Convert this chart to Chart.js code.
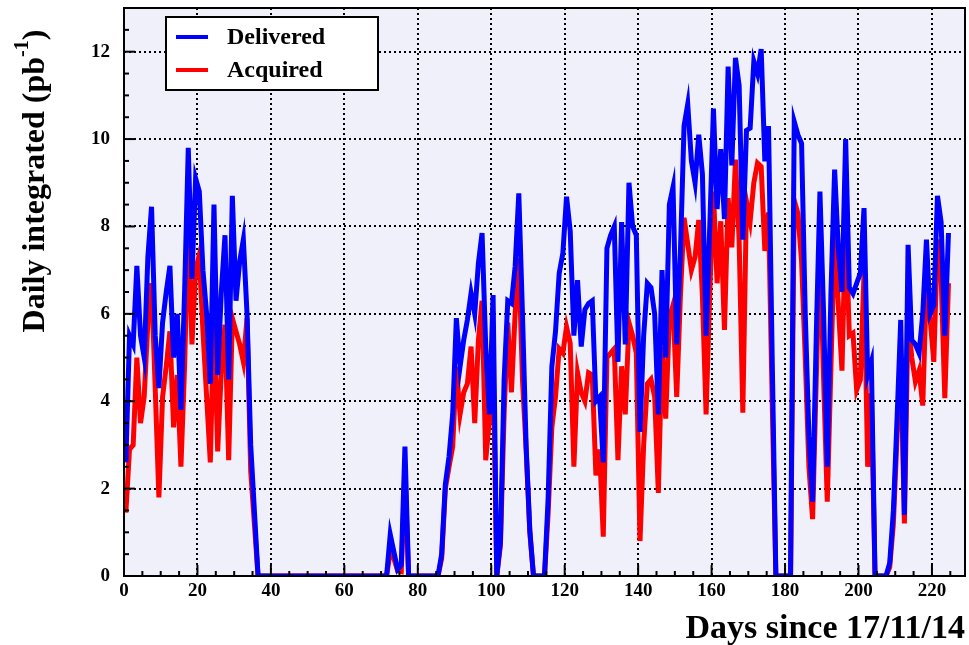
<!DOCTYPE html>
<html>
<head>
<meta charset="utf-8">
<script src="https://cdn.jsdelivr.net/npm/chart.js@4.4.1/dist/chart.umd.min.js"></script>
<style>
   html, body { margin: 0; padding: 0; background: #ffffff; }
   #wrap { width: 969px; height: 645px; }
</style>
</head>
<body>
<div id="wrap"><canvas id="lumiChart" width="969" height="645"></canvas></div>
<script>
// daily integrated luminosity, one value per day (day index 0 .. 224)
const delivered = [
   2.6, 5.5, 5.3, 7.1, 5.5, 5.0, 7.3, 8.45, 5.5, 4.3, 5.8, 6.5, 7.1, 5.0, 6.0, 3.8, 6.5, 9.8, 6.8, 9.1,
   8.8, 7.0, 6.0, 4.4, 8.5, 4.6, 6.5, 7.8, 4.5, 8.7, 6.3, 7.2, 7.7, 6.0, 3.0, 1.5, 0,
   0, 0, 0, 0, 0, 0, 0, 0, 0, 0, 0, 0, 0, 0, 0, 0, 0, 0, 0, 0, 0, 0, 0, 0, 0, 0, 0, 0, 0, 0, 0, 0, 0, 0, 0,
   0.95, 0.55, 0.15, 0.25, 2.96, 0,
   0, 0, 0, 0, 0, 0, 0, 0,
   0.5, 2.1, 2.73, 3.7, 5.9, 4.79, 5.4, 5.86, 6.47, 6.0, 7.16, 7.85, 5.25, 3.7, 6.43, 0, 0.8, 4.49, 6.3, 6.24,
   7.08, 8.76, 6.0, 2.96, 1.05, 0, 0, 0, 0, 1.8, 4.79, 5.6, 6.93, 7.39, 8.68, 7.9, 5.5, 6.77, 5.25, 6.1, 6.24,
   6.3, 4.0, 4.1, 2.6, 7.5, 7.8, 8.0, 4.9, 8.1, 5.3, 9.0, 8.0, 7.8, 3.3, 5.5, 6.7, 6.6, 6.0, 3.7, 7.0,
   5.0, 8.5, 8.9, 5.3, 7.4, 10.3, 10.8, 9.5, 9.0, 10.1, 9.2, 5.5, 8.0, 10.7, 8.4,
   9.77, 8.17, 11.66, 9.4, 11.86, 11.22, 7.7, 10.2, 10.25, 11.78, 11.5, 12.06, 9.49, 10.3, 5.0, 0,
   0, 0, 0, 0,
   10.4, 10.1, 9.9, 6.0, 3.2, 1.7, 5.5, 8.8, 6.0, 2.5, 6.5, 9.3, 7.5, 6.5, 10.0, 6.6,
   6.46, 6.7, 6.93, 8.42, 4.6, 4.9, 0, 0, 0, 0, 0.3, 1.5, 3.6,
   5.86, 1.4, 7.58, 5.4, 5.3, 5.1, 6.0, 7.7, 6.0, 6.2, 8.7, 8.1, 5.5, 7.85
];

const acquired = [
   1.45, 2.9, 3.0, 5.0, 3.5, 4.1, 5.8, 6.7, 4.3, 1.8, 4.1, 4.8, 5.6, 3.4, 4.6, 2.5, 4.8, 8.15, 5.3, 7.0,
   7.35, 5.6, 4.1, 2.6, 6.05, 2.85, 4.7, 5.75, 2.65, 5.9, 5.6, 5.3, 4.9, 5.9, 2.4, 1.2, 0,
   0, 0, 0, 0, 0, 0, 0, 0, 0, 0, 0, 0, 0, 0, 0, 0, 0, 0, 0, 0, 0, 0, 0, 0, 0, 0, 0, 0, 0, 0, 0, 0, 0, 0, 0,
   0.56, 0.4, 0.12, 0.1, 2.35, 0,
   0, 0, 0, 0, 0, 0, 0, 0,
   0.4, 2.0, 2.5, 2.96, 4.79, 3.7, 4.2, 4.4, 5.25, 3.5, 5.4, 6.3, 2.65, 3.6, 5.0, 0, 0.7, 3.7, 5.8, 4.2,
   6.0, 7.27, 4.5, 2.9, 1.0, 0, 0, 0, 0, 1.45, 3.4, 4.1, 5.2, 5.1, 5.7, 5.33, 2.5, 4.65, 4.2, 4.0, 4.65,
   4.6, 2.3, 2.9, 0.9, 5.0, 5.1, 5.2, 2.65, 4.8, 3.7, 5.8, 5.5, 5.1, 0.8, 3.0, 4.4, 4.5, 4.1, 1.9, 5.25,
   3.6, 5.9, 6.2, 4.1, 6.4, 8.2, 7.6, 7.0, 7.3, 8.15, 6.4, 3.7, 6.5, 8.8, 6.7,
   8.12, 5.63, 8.65, 7.52, 9.53, 7.68, 3.74, 8.57, 8.12, 9.0, 9.45, 9.37, 7.44, 8.32, 4.0, 0,
   0, 0, 0, 0,
   8.6, 8.3, 7.2, 5.0, 2.5, 1.3, 4.5, 7.6, 4.5, 1.7, 4.8, 7.85, 6.2, 4.7, 8.2, 5.5,
   5.56, 4.26, 4.49, 6.93, 2.5, 4.18, 0, 0, 0, 0, 0.2, 1.2, 3.2,
   5.05, 1.2, 5.93, 5.0, 4.45, 4.7, 3.9, 6.7, 5.9, 4.9, 7.7, 6.85, 4.07, 6.7
];

const seriesLabels = ['Delivered', 'Acquired'];
const seriesColors = ['#0000ff', '#ff0000'];
const xTicks = [0, 20, 40, 60, 80, 100, 120, 140, 160, 180, 200, 220];
const yTicks = [0, 2, 4, 6, 8, 10, 12];
const xTitle = 'Days since 17/11/14';
const yTitle = 'Daily integrated (pb';
const yTitleSup = '-1';

const serif = "'Liberation Serif', 'DejaVu Serif', serif";

// points sit at the bin centres (day + 0.5)
function toPoints(values) {
   return values.map((v, i) => ({ x: i + 0.5, y: v }));
}

// keep the frame exactly where the reference has it
function noScalePadding(scale) {
   scale.paddingTop = 0;
   scale.paddingBottom = 0;
   scale.paddingLeft = 0;
   scale.paddingRight = 0;
}

const rootStylePlugin = {
   id: 'rootStyle',
   beforeDraw(chart) {
      const { ctx, chartArea: a } = chart;
      ctx.save();
      ctx.fillStyle = '#f0f0fb';
      ctx.fillRect(a.left, a.top, a.right - a.left, a.bottom - a.top);
      ctx.restore();
   },
   beforeDatasetsDraw(chart) {
      // dotted grid
      const { ctx, chartArea: a, scales } = chart;
      ctx.save();
      ctx.strokeStyle = '#000';
      ctx.lineWidth = 2;
      ctx.setLineDash([2, 3]);
      xTicks.slice(1).forEach(v => {
         const px = Math.round(scales.x.getPixelForValue(v));
         ctx.beginPath();
         ctx.moveTo(px, a.top);
         ctx.lineTo(px, a.bottom);
         ctx.stroke();
      });
      yTicks.slice(1).forEach(v => {
         const py = Math.round(scales.y.getPixelForValue(v));
         ctx.beginPath();
         ctx.moveTo(a.left, py);
         ctx.lineTo(a.right, py);
         ctx.stroke();
      });
      ctx.restore();
   },
   afterDatasetsDraw(chart) {
      const { ctx, chartArea: a, scales } = chart;
      ctx.save();
      ctx.strokeStyle = '#000';
      ctx.lineWidth = 2;
      ctx.setLineDash([]);
      ctx.strokeRect(a.left, a.top, a.right - a.left, a.bottom - a.top);

      // inner ticks, major every 20 / 2, minor every 5 / 0.5
      for (let v = 0; v <= scales.x.max; v += 5) {
         const px = scales.x.getPixelForValue(v);
         const len = v % 20 === 0 ? 11 : 5;
         ctx.beginPath();
         ctx.moveTo(px, a.bottom);
         ctx.lineTo(px, a.bottom - len);
         ctx.stroke();
      }
      for (let v = 0; v <= scales.y.max; v += 0.5) {
         const py = scales.y.getPixelForValue(v);
         const len = v % 2 === 0 ? 11 : 5;
         ctx.beginPath();
         ctx.moveTo(a.left, py);
         ctx.lineTo(a.left + len, py);
         ctx.stroke();
      }

      // legend box
      const box = { x: 166, y: 17, w: 212, h: 73 };
      ctx.fillStyle = '#fff';
      ctx.fillRect(box.x, box.y, box.w, box.h);
      ctx.strokeRect(box.x, box.y, box.w, box.h);
      const rows = [37, 70];
      chart.data.datasets.forEach((ds, i) => {
         ctx.strokeStyle = ds.borderColor;
         ctx.lineWidth = 4;
         ctx.beginPath();
         ctx.moveTo(176, rows[i]);
         ctx.lineTo(208, rows[i]);
         ctx.stroke();
         ctx.fillStyle = '#000';
         ctx.font = `bold 24px ${serif}`;
         ctx.textAlign = 'left';
         ctx.textBaseline = 'middle';
         ctx.fillText(ds.label, 227, rows[i] + 1);
      });

      // axis titles
      ctx.fillStyle = '#000';
      ctx.font = `bold 34px ${serif}`;
      ctx.textAlign = 'right';
      ctx.textBaseline = 'alphabetic';
      ctx.fillText(xTitle, 965, 638);

      ctx.translate(44, 181);
      ctx.rotate(-Math.PI / 2);
      ctx.font = `bold 32px ${serif}`;
      const wMain = ctx.measureText(yTitle).width;
      const wClose = ctx.measureText(')').width;
      ctx.font = `bold 20px ${serif}`;
      const wSup = ctx.measureText(yTitleSup).width;
      const start = -(wMain + wSup + wClose) / 2;
      ctx.textAlign = 'left';
      ctx.font = `bold 32px ${serif}`;
      ctx.fillText(yTitle, start, 0);
      ctx.font = `bold 20px ${serif}`;
      ctx.fillText(yTitleSup, start + wMain, -16);
      ctx.font = `bold 32px ${serif}`;
      ctx.fillText(')', start + wMain + wSup, 0);
      ctx.restore();
   }
};

const ctx = document.getElementById('lumiChart').getContext('2d');
new Chart(ctx, {
   type: 'line',
   data: {
      datasets: [delivered, acquired].map((values, i) => ({
         label: seriesLabels[i],
         data: toPoints(values),
         borderColor: seriesColors[i],
         backgroundColor: seriesColors[i],
         borderWidth: 5,
         borderJoinStyle: 'miter',
         pointRadius: 0,
         tension: 0,
         fill: false
      }))
   },
   options: {
      responsive: false,
      animation: false,
      devicePixelRatio: 1,
      layout: { padding: { left: 0, right: 4, top: 8, bottom: 0 } },
      plugins: {
         legend: { display: false },
         tooltip: { enabled: false },
         title: { display: false }
      },
      scales: {
         x: {
            type: 'linear',
            min: 0,
            max: 229,
            afterBuildTicks: scale => { scale.ticks = xTicks.map(v => ({ value: v })); },
            afterFit: scale => { scale.height = 69; noScalePadding(scale); },
            grid: { display: false, drawTicks: false },
            border: { display: false },
            ticks: {
               autoSkip: false,
               maxRotation: 0,
               padding: 4,
               color: '#000',
               font: { family: serif, weight: 'bold', size: 19 }
            }
         },
         y: {
            type: 'linear',
            min: 0,
            max: 13,
            afterBuildTicks: scale => { scale.ticks = yTicks.map(v => ({ value: v })); },
            afterFit: scale => { scale.width = 124; noScalePadding(scale); },
            grid: { display: false, drawTicks: false },
            border: { display: false },
            ticks: {
               autoSkip: false,
               padding: 14,
               color: '#000',
               font: { family: serif, weight: 'bold', size: 19 }
            }
         }
      }
   },
   plugins: [rootStylePlugin]
});
</script>
</body>
</html>
